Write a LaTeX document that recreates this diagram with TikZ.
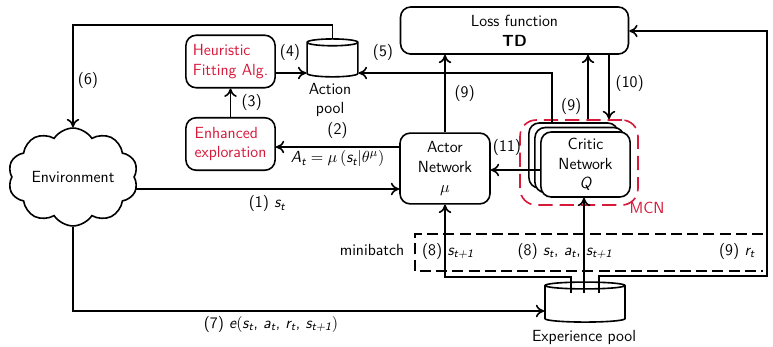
\documentclass[tikz,border=0pt]{standalone}
\usepackage{amsmath}
\usetikzlibrary{arrows.meta,shapes.geometric,shapes.symbols}
\definecolor{crimson}{HTML}{D7193A}
\newcommand{\sv}[2]{\textsl{#1}_{\textsl{#2}}}
\tikzset{
  txt/.style={font=\sffamily\fontsize{11}{13.5}\selectfont},
  box/.style={txt, rounded corners=7pt, draw, line width=1.1pt, fill=white, align=center},
  algbox/.style={box, minimum width=2.14cm, minimum height=1.26cm, align=left, text=crimson},
  critbox/.style={box, minimum width=2.14cm, minimum height=1.56cm},
  pool/.style={cylinder, shape border rotate=90, aspect=0.7, draw, line width=1.1pt, fill=white},
  arr/.style={-{To[length=2mm,width=3mm]}, line width=1.1pt},
  lbl/.style={txt, inner sep=1pt},
  batch/.style={dash pattern=on 2.6mm off 1.3mm, line width=1.1pt}
}

\begin{document}
\begin{tikzpicture}[x=0.024cm,y=-0.024cm]
  \useasboundingbox (0,0) rectangle (773,346);

  \node[cloud, draw, line width=1.1pt, cloud puffs=10, cloud puff arc=115, aspect=1.35,
    inner xsep=-6pt, inner ysep=-2pt, minimum width=3.12cm, minimum height=2.35cm, txt] (env) at (73,177) {Environment};
  \node[algbox] (heur) at (230.5,61.5) {Heuristic\\Fitting Alg.};
  \node[algbox] (enh) at (230.5,144) {Enhanced\\exploration};
  \node[pool, minimum width=1.22cm, minimum height=0.91cm] (apool) at (332.5,61) {};
  \node[lbl, align=center] (apoollbl) at (330,100) {Action\\pool};
  \node[box, minimum width=5.47cm, minimum height=1.13cm] (loss) at (514.5,30.5) {Loss function\\\textbf{TD}};
  \node[box, minimum width=2.16cm, minimum height=1.70cm] (act) at (445,168.5) {Actor\\Network\\$\mu$};

  \node[critbox] (c3) at (573.5,155.5) {};
  \node[critbox] (c2) at (579.5,160) {};
  \node[critbox] (c1) at (585.5,164.5) {Critic\\Network\\$\textsl{Q}$};
  \node[draw=crimson, line width=1.1pt, dash pattern=on 3.4mm off 1.7mm, rounded corners=11pt,
    minimum width=2.83cm, minimum height=2.04cm] (mcn) at (579,162.5) {};
  \node[lbl, text=crimson] (mcnlbl) at (647,208) {MCN};

  \node[pool, minimum width=1.92cm, minimum height=0.96cm] (xp) at (585,305) {};
  \node[lbl] (xplbl) at (584,337) {Experience pool};

  \draw[batch] (763,234) -- (415,234) -- (415,271) -- (763,271);
  \node[lbl] (mb) at (372,250) {minibatch};
  \node[lbl] (l8a) at (448,251) {(8) $\sv{s}{t+1}$};
  \node[lbl] (l8b) at (565,251) {(8) $\sv{s}{t}$, $\sv{a}{t}$, $\sv{s}{t+1}$};
  \node[lbl] (l9r) at (737,251) {(9) $\sv{r}{t}$};

  \coordinate (xa) at (571,293);
  \coordinate (xb) at (584,293);
  \coordinate (xc) at (599,293);
  \coordinate (rt) at (767,31);

  \draw[arr] (env.east |- 0,189) -- node[lbl, below=3pt]{(1) $\sv{s}{t}$} (act.west |- 0,189);
  \draw[arr] (act.west |- 0,147) -- node[lbl, above=4pt]{(2)} node[lbl, below=1pt]{$\sv{A}{t}=\mu\left(\sv{s}{t}|\theta^{\mu}\right)$} (enh.east |- 0,147);
  \draw[arr] (enh) -- node[lbl, right=6pt]{(3)} (heur);
  \draw[arr] (heur.east |- 0,73) -- (apool.west |- 0,73);
  \node[lbl] (l4) at (290,52) {(4)};
  \draw[arr] (c3.north -| 552,0) |- (apool.east |- 0,73);
  \node[lbl] (l5) at (383,52) {(5)};
  \draw[arr] (apool.north) |- (env.north |- 0,25) -- (env.north);
  \node[lbl] (l6) at (88,80) {(6)};
  \draw[arr] (env.south) |- (xp.west |- 0,311);
  \node[lbl] (l7) at (271,324) {(7) $\textsl{e}(\sv{s}{t}$, $\sv{a}{t}$, $\sv{r}{t}$, $\sv{s}{t+1})$};
  \draw[arr] (xa) -- (571,277) -| (act.south);
  \draw[arr] (xb) -- (c1.south -| xb);
  \draw[arr] (xc) -- (599,276) -| (rt) -- (loss.east |- rt);
  \draw[arr] (act.north) -- node[lbl, right=5pt]{(9)} (act.north |- loss.south);
  \draw[arr] (mcn.north -| 588,0) -- node[lbl, left=3pt, pos=0.2]{(9)} (loss.south -| 588,0);
  \draw[arr] (loss.south -| 609,0) -- node[lbl, right=3pt, pos=0.45]{(10)} (mcn.north -| 609,0);
  \draw[arr] (c1.west |- 0,170) -- (act.east |- 0,170);
  \node[lbl] (l11) at (507,147) {(11)};
\end{tikzpicture}
\end{document}
